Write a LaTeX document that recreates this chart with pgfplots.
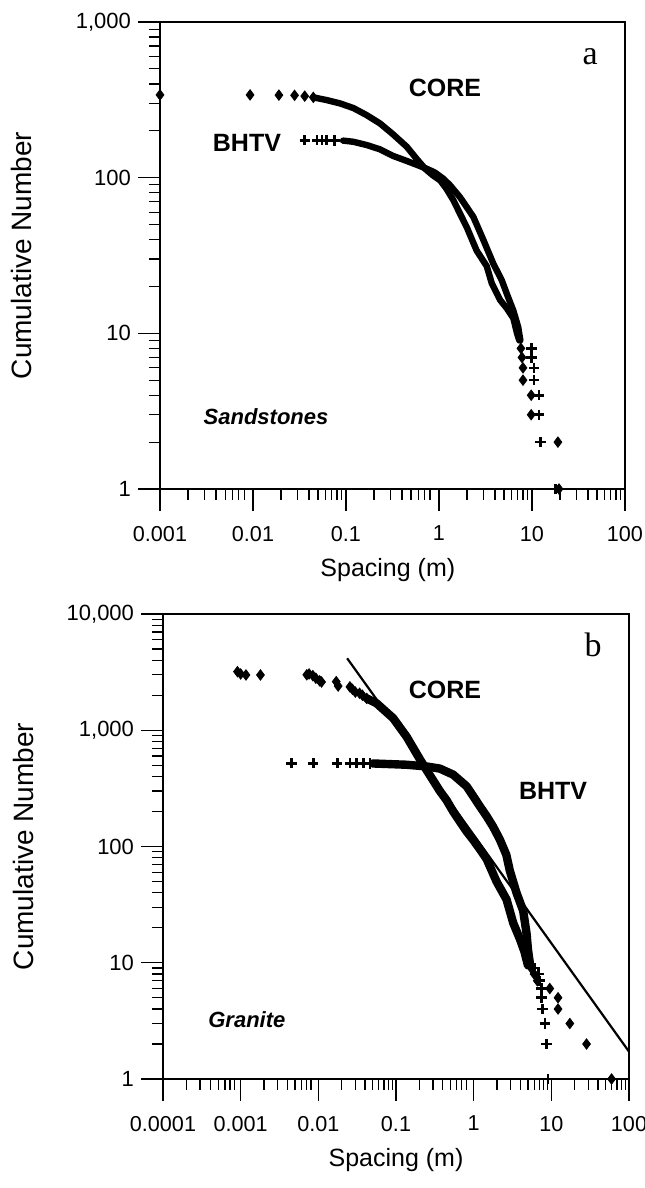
\documentclass[border=0pt]{standalone}
\usepackage{pgfplots}
\pgfplotsset{compat=1.18}
\usepackage{fontspec}
\setmainfont{Liberation Sans}
\newfontfamily\seriffont{Liberation Serif}
\pgfplotsset{
  mypanel/.style={
    axis line style={line width=0.8pt},
    tick align=outside, xtick pos=bottom, ytick pos=left,
    major tick length=11pt, minor tick length=5.5pt,
    tick style={black, line width=0.6pt},
    clip=false,
    xticklabel style={font=\fontsize{10.8}{12}\selectfont, yshift=-4pt},
    yticklabel style={font=\fontsize{11}{13}\selectfont},
    xlabel style={font=\fontsize{12.5}{14}\selectfont, anchor=center},
    ylabel style={font=\fontsize{14}{16}\selectfont, anchor=center},
    xlabel={Spacing (m)}, ylabel={Cumulative Number}},
  mydense/.style={black, no marks, line join=round, line cap=round},
  mydia/.style={black, only marks, mark=diamond*, mark size=2.6pt},
  mycrs/.style={black, only marks, mark=+, mark size=2.6pt, mark options={line width=1.3pt}},
}
\begin{document}
\begin{tikzpicture}
% ---------------- panel a
\begin{axis}[xmode=log, ymode=log, scale only axis, mypanel,
  at={(80pt,349.5pt)}, anchor=south west,
  width=232.5pt, height=233.5pt,
  xmin=0.001, xmax=100, ymin=1, ymax=1000,
  xtick={0.001,0.01,0.1,1,10,100}, xticklabels={0.001,0.01,0.1,1,10,100},
  minor xtick={0.002,0.003,...,0.009,0.02,0.03,...,0.09,0.2,0.3,...,0.9,2,3,...,9,20,30,...,90},
  ytick={1,10,100,1000}, yticklabels={1,10,100,{1,000}},
  minor ytick={2,3,...,9,20,30,...,90,200,300,...,900},
  xlabel style={at={(axis description cs:0.49,-0.173)}},
  ylabel style={at={(axis description cs:-0.297,0.5)}},
]
\draw[line width=0.8pt] (rel axis cs:0,0) rectangle (rel axis cs:1,1);
% CORE
\addplot[mydia] coordinates {(0.001,340)(0.0093,340)(0.019,339)(0.028,338)(0.036,334)(0.0445,328)};
\addplot[mydense, line width=3.2pt] coordinates {(0.0445,328)(0.062,315)(0.086,300)(0.12,280)(0.167,252)(0.232,223)(0.32,190)(0.45,158)(0.575,132)(0.71,114)(0.85,104)(1.03,96)(1.2,85)(1.42,72)(1.7,58)(1.99,48)(2.54,34)(3.26,27)(3.69,21)(4.53,16.4)(5.35,14.5)(6.3,12.5)(6.9,10)(7.3,9)};
\addplot[mydia] coordinates {(7.6,8)(7.8,7)(8.0,6)(8.0,5)(9.8,4)(9.8,3)(19,2)(19.5,1)};
% BHTV
\addplot[mycrs] coordinates {(0.036,174)(0.049,174)(0.055,174)(0.062,174)(0.075,173)};
\addplot[mydense, line width=3.2pt] coordinates {(0.093,173)(0.12,170)(0.167,162)(0.232,152)(0.32,138)(0.45,128)(0.575,121)(0.74,114)(0.9,108)(1.1,99)(1.3,90)(1.68,75)(2.34,56)(2.99,40)(3.84,28)(4.72,22)(5.35,18)(6.3,14)(7.1,11)(7.5,9)};
\addplot[mycrs] coordinates {(9.9,8)(9.9,7)(10.5,6)(10.5,5)(11.9,4)(11.9,3)(12.3,2)(17.8,1)};
\node at (rel axis cs:0.613,0.859) {\fontsize{12.5}{14}\selectfont\bfseries CORE};
\node at (rel axis cs:0.187,0.741) {\fontsize{12.5}{14}\selectfont\bfseries BHTV};
\node at (rel axis cs:0.228,0.154) {\fontsize{11}{13}\selectfont\bfseries\itshape Sandstones};
\node at (rel axis cs:0.925,0.925) {\seriffont\fontsize{17}{20}\selectfont a};
\end{axis}
% ---------------- panel b
\begin{axis}[xmode=log, ymode=log, scale only axis, mypanel,
  at={(81.5pt,54.5pt)}, anchor=south west,
  width=233pt, height=232.5pt,
  xmin=0.0001, xmax=100, ymin=1, ymax=10000,
  xtick={0.0001,0.001,0.01,0.1,1,10,100}, xticklabels={0.0001,0.001,0.01,0.1,1,10,100},
  minor xtick={0.0002,0.0003,...,0.0009,0.002,0.003,...,0.009,0.02,0.03,...,0.09,0.2,0.3,...,0.9,2,3,...,9,20,30,...,90},
  ytick={1,10,100,1000,10000}, yticklabels={1,10,100,{1,000},{10,000}},
  minor ytick={2,3,...,9,20,30,...,90,200,300,...,900,2000,3000,...,9000},
  xlabel style={at={(axis description cs:0.50,-0.174)}},
  ylabel style={at={(axis description cs:-0.30,0.5)}},
]
\draw[line width=0.8pt] (rel axis cs:0,0) rectangle (rel axis cs:1,1);
% fit line
\addplot[black, no marks, line width=1.1pt] coordinates {(0.0235,4160)(100,1.72)};
% CORE
\addplot[mydia] coordinates {(0.00091,3190)(0.001,3050)(0.00117,2990)(0.0018,2990)(0.0071,3000)(0.0076,3050)(0.0085,2950)(0.0093,2800)(0.0104,2660)(0.011,2600)(0.017,2620)(0.018,2400)(0.0255,2360)(0.0275,2250)(0.030,2130)(0.034,2080)(0.037,2000)(0.042,1880)};
\addplot[mydense, line width=4.2pt] coordinates {(0.042,1880)(0.056,1710)(0.092,1270)(0.137,880)(0.204,560)(0.25,450)(0.367,300)(0.448,250)(0.545,200)(0.66,165)(0.81,135)(0.986,114)(1.2,95)(1.47,78)(1.97,50)(2.65,35)(3.23,22)(3.94,16)(4.5,12.5)(5.0,9.5)};
\addplot[mydia] coordinates {(5.5,9)(6.0,8)(6.6,7)(9.55,6)(12.2,5)(12.2,4)(17.3,3)(28.4,2)(59.6,1)};
% BHTV
\addplot[mycrs] coordinates {(0.00453,520)(0.0086,520)(0.0175,520)(0.0255,520)(0.031,520)(0.038,520)(0.046,518)};
\addplot[mydense, line width=4.2pt] coordinates {(0.05,518)(0.137,505)(0.248,488)(0.367,468)(0.545,415)(0.81,330)(0.99,270)(1.2,222)(1.47,182)(1.78,148)(2.17,115)(2.63,85)(2.92,62)(3.56,40)(4.34,28)(4.79,18)(5.0,13)(5.28,10)};
\addplot[mycrs] coordinates {(6.1,9)(6.8,8)(7.1,7)(7.5,6)(7.5,5)(7.7,4)(8.25,3)(8.7,2)(9.1,1)};
\node at (rel axis cs:0.605,0.837) {\fontsize{12.5}{14}\selectfont\bfseries CORE};
\node at (rel axis cs:0.837,0.619) {\fontsize{12.5}{14}\selectfont\bfseries BHTV};
\node at (rel axis cs:0.18,0.127) {\fontsize{11}{13}\selectfont\bfseries\itshape Granite};
\node at (rel axis cs:0.923,0.933) {\seriffont\fontsize{17}{20}\selectfont b};
\end{axis}
\pgfresetboundingbox
\useasboundingbox (0,0) rectangle (322pt,594pt);
\end{tikzpicture}
\end{document}
